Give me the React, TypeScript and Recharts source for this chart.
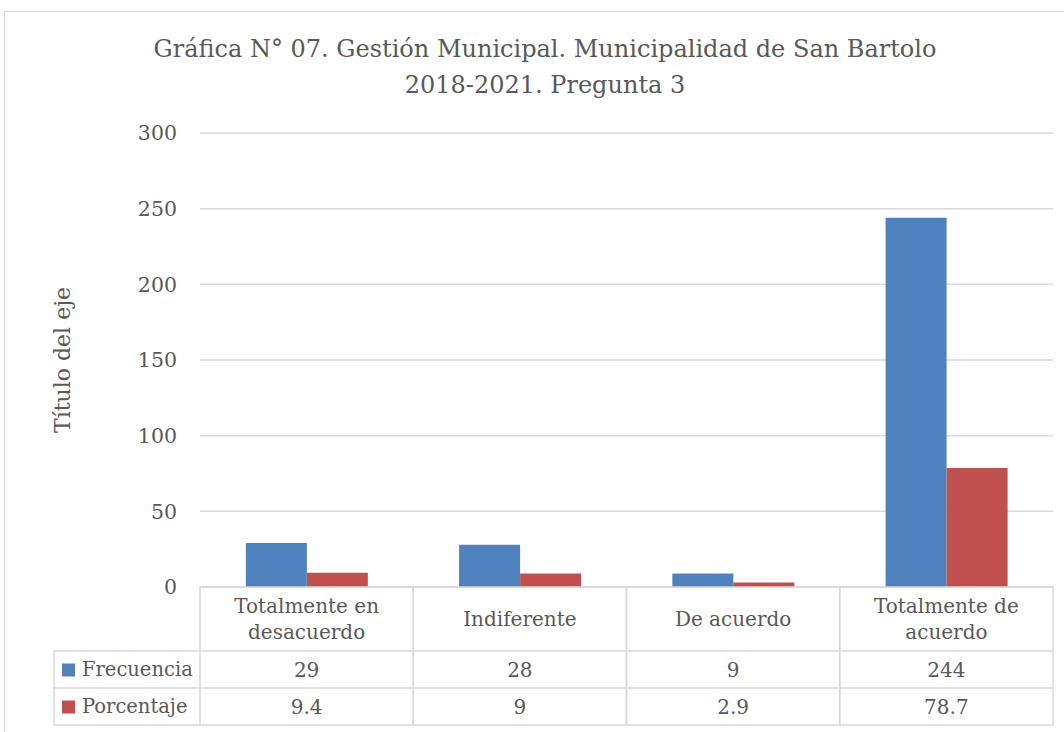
import React from 'react';
import { Bar, BarChart, CartesianGrid, Label, XAxis, YAxis } from 'recharts';

const categories = ['Totalmente en desacuerdo', 'Indiferente', 'De acuerdo', 'Totalmente de acuerdo'];
const frecuencia = [29, 28, 9, 244];
const porcentaje = [9.4, 9, 2.9, 78.7];
const yTicks = [0, 50, 100, 150, 200, 250, 300];
const seriesNames = ['Frecuencia', 'Porcentaje'];

const BLUE = '#4F81BD';
const RED = '#C0504D';
const GRID = '#D9D9D9';
const TEXT = '#595959';
const FONT = '"DejaVu Serif", serif';

const W = 1064;
const H = 732;
const PLOT_LEFT = 200;
const PLOT_RIGHT = 1053;
const COL_W = (PLOT_RIGHT - PLOT_LEFT) / categories.length;
const HEAD_H = 64;
const ROW_H = 37;
const LEGEND_LEFT = 54;

const data = categories.map((c, i) => ({ name: c, frecuencia: frecuencia[i], porcentaje: porcentaje[i] }));

// crude word wrap for the category cells
const wrap = (s: string, max = 14) => {
  const lines: string[] = [];
  let cur = '';
  s.split(' ').forEach((w) => {
    if (cur && (cur + ' ' + w).length > max) {
      lines.push(cur);
      cur = w;
    } else {
      cur = cur ? cur + ' ' + w : w;
    }
  });
  if (cur) lines.push(cur);
  return lines;
};

const TableTick = (props: any) => {
  const { x, y, payload } = props;
  const i = payload.index;
  const left = x - COL_W / 2;
  const lines = wrap(String(payload.value));
  const rowVals = [frecuencia[i], porcentaje[i]];
  const colors = [BLUE, RED];
  const lineH = 26;
  const headMid = y + HEAD_H / 2;
  return (
    <g>
      <rect x={left} y={y} width={COL_W} height={HEAD_H + ROW_H * 2} fill="none" stroke={GRID} strokeWidth={1.5} />
      {lines.map((l, k) => (
        <text
          key={k}
          x={x}
          y={headMid + (k - (lines.length - 1) / 2) * lineH}
          textAnchor="middle"
          dominantBaseline="central"
          fill={TEXT}
          fontSize={20}
          fontFamily={FONT}
        >
          {l}
        </text>
      ))}
      {rowVals.map((v, r) => (
        <g key={r}>
          <line x1={i === 0 ? LEGEND_LEFT : left} x2={left + COL_W} y1={y + HEAD_H + r * ROW_H} y2={y + HEAD_H + r * ROW_H} stroke={GRID} strokeWidth={1.5} />
          <text
            x={x}
            y={y + HEAD_H + r * ROW_H + ROW_H / 2}
            textAnchor="middle"
            dominantBaseline="central"
            fill={TEXT}
            fontSize={20}
            fontFamily={FONT}
          >
            {v}
          </text>
          {i === 0 && (
            <g>
              <rect x={LEGEND_LEFT + 8} y={y + HEAD_H + r * ROW_H + ROW_H / 2 - 6} width={13} height={13} fill={colors[r]} />
              <text
                x={LEGEND_LEFT + 28}
                y={y + HEAD_H + r * ROW_H + ROW_H / 2}
                dominantBaseline="central"
                fill={TEXT}
                fontSize={19.5}
                fontFamily={FONT}
              >
                {seriesNames[r]}
              </text>
            </g>
          )}
        </g>
      ))}
      {i === 0 && (
        <g>
          <line x1={LEGEND_LEFT} x2={LEGEND_LEFT} y1={y + HEAD_H} y2={y + HEAD_H + ROW_H * 2} stroke={GRID} strokeWidth={1.5} />
          <line x1={LEGEND_LEFT} x2={left} y1={y + HEAD_H + ROW_H * 2} y2={y + HEAD_H + ROW_H * 2} stroke={GRID} strokeWidth={1.5} />
        </g>
      )}
    </g>
  );
};

const AxisTitle = (props: any) => {
  const { viewBox } = props;
  const cy = viewBox.y + viewBox.height / 2;
  return (
    <text
      x={62}
      y={cy}
      transform={`rotate(-90, 62, ${cy})`}
      textAnchor="middle"
      dominantBaseline="central"
      fill={TEXT}
      fontSize={22}
      fontFamily={FONT}
    >
      Título del eje
    </text>
  );
};

export default function App() {
  return (
    <div style={{ position: 'absolute', left: 0, top: 0, width: W, height: H, overflow: 'hidden', background: '#fff' }}>
      <div
        style={{
          position: 'absolute',
          left: 4,
          top: 11,
          width: W + 20,
          height: H + 20,
          border: `1.5px solid ${GRID}`,
        }}
      />
      <div
        style={{
          position: 'absolute',
          left: 0,
          width: 1090,
          top: 31,
          textAlign: 'center',
          fontFamily: FONT,
          fontSize: 24,
          lineHeight: '36px',
          color: TEXT,
        }}
      >
        Gráfica N° 07. Gestión Municipal. Municipalidad de San Bartolo
        <br />
        2018-2021. Pregunta 3
      </div>
      <div style={{ position: 'absolute', left: 0, top: 0 }}>
        <BarChart
          width={W}
          height={H}
          data={data}
          margin={{ top: 133, right: W - PLOT_RIGHT, left: 60, bottom: 7 }}
          barCategoryGap="21.5%"
          barGap={0}
        >
          <CartesianGrid vertical={false} stroke={GRID} strokeWidth={1.5} />
          <XAxis
            dataKey="name"
            height={138}
            axisLine={false}
            tickLine={false}
            tickSize={0}
            tickMargin={0}
            interval={0}
            tick={<TableTick />}
          />
          <YAxis
            width={PLOT_LEFT - 60}
            domain={[0, 300]}
            ticks={yTicks}
            axisLine={false}
            tickLine={false}
            tickSize={0}
            tickMargin={23}
            tick={{ fill: TEXT, fontSize: 20.5, fontFamily: FONT }}
          >
            <Label content={<AxisTitle />} />
          </YAxis>
          <Bar dataKey="frecuencia" name="Frecuencia" fill={BLUE} isAnimationActive={false} />
          <Bar dataKey="porcentaje" name="Porcentaje" fill={RED} isAnimationActive={false} />
        </BarChart>
      </div>
    </div>
  );
}
